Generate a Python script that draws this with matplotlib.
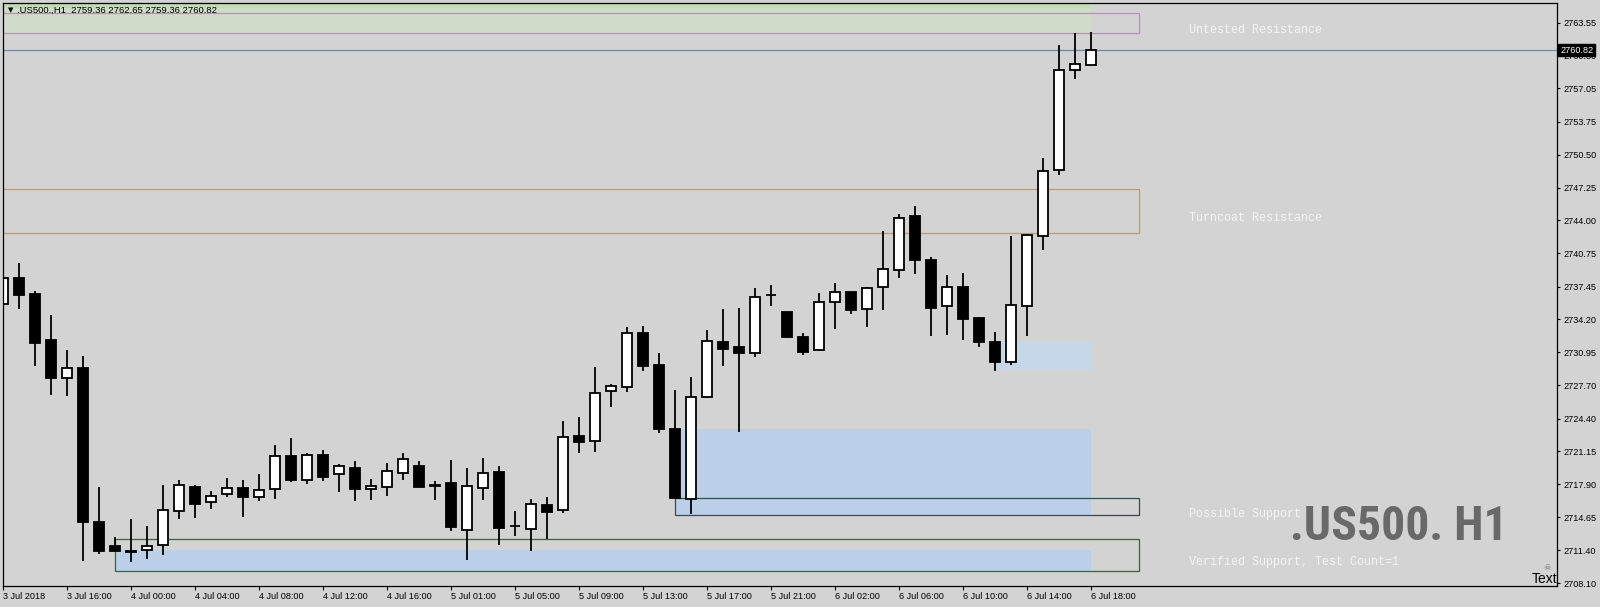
import matplotlib
matplotlib.use("Agg")
import matplotlib.pyplot as plt
from matplotlib.patches import Rectangle
from matplotlib import font_manager

# H1 bars, 3 Jul 12:00 .. 6 Jul 18:00
opens = [2735.70, 2738.27, 2736.72, 2732.17, 2728.38, 2729.40, 2714.17, 2711.79, 2711.35, 2711.37,
         2711.86, 2715.23, 2717.60, 2716.12, 2716.91, 2717.50, 2716.61, 2717.43, 2720.67, 2718.35,
         2720.79, 2718.89, 2719.51, 2717.46, 2717.66, 2719.04, 2719.71, 2717.80, 2718.03, 2713.41,
         2717.56, 2719.08, 2713.74, 2713.51, 2715.82, 2715.38, 2722.64, 2722.21, 2727.10, 2727.55,
         2732.83, 2729.67, 2723.37, 2716.47, 2726.56, 2731.97, 2731.48, 2730.86, 2736.59, 2734.94,
         2732.47, 2731.21, 2735.90, 2736.89, 2735.27, 2737.38, 2739.06, 2744.40, 2740.08, 2735.50,
         2737.38, 2734.32, 2731.97, 2729.96, 2735.50, 2742.43, 2748.96, 2758.85, 2759.36]
highs = [2738.50, 2739.76, 2736.99, 2734.64, 2731.18, 2730.59, 2717.63, 2712.68, 2714.46, 2713.77,
         2717.83, 2718.32, 2717.83, 2717.23, 2718.52, 2718.32, 2718.92, 2721.78, 2722.45, 2720.96,
         2721.29, 2719.90, 2720.20, 2718.42, 2720.00, 2720.99, 2720.20, 2718.22, 2720.30, 2719.51,
         2720.50, 2719.71, 2715.26, 2716.44, 2716.64, 2724.16, 2724.55, 2729.50, 2727.79, 2733.46,
         2733.55, 2730.88, 2727.22, 2728.51, 2733.16, 2735.24, 2735.34, 2737.31, 2737.61, 2734.94,
         2732.86, 2736.82, 2737.81, 2736.95, 2737.41, 2742.95, 2744.60, 2745.42, 2740.38, 2738.60,
         2738.80, 2734.45, 2732.96, 2742.46, 2742.62, 2750.17, 2761.35, 2762.51, 2762.65]
lows = [2734.07, 2735.27, 2729.63, 2726.76, 2726.66, 2710.34, 2711.03, 2711.33, 2710.24, 2710.54,
        2710.93, 2714.49, 2714.59, 2715.48, 2716.67, 2714.69, 2716.27, 2716.47, 2718.15, 2717.96,
        2718.22, 2717.17, 2716.27, 2716.34, 2716.77, 2718.35, 2717.66, 2716.34, 2713.31, 2710.44,
        2716.34, 2711.89, 2712.81, 2711.33, 2712.49, 2715.09, 2721.02, 2721.12, 2725.54, 2727.06,
        2729.13, 2723.00, 2716.50, 2714.99, 2726.46, 2729.63, 2723.10, 2730.52, 2735.56, 2732.37,
        2730.72, 2731.11, 2733.29, 2734.77, 2733.49, 2735.17, 2738.33, 2738.73, 2732.60, 2732.69,
        2732.20, 2731.50, 2729.13, 2729.73, 2732.60, 2741.10, 2748.52, 2758.02, 2759.36]
closes = [2738.27, 2736.65, 2731.90, 2728.44, 2729.37, 2714.20, 2711.33, 2711.33, 2711.20, 2711.76,
          2715.33, 2717.80, 2715.98, 2716.71, 2717.50, 2716.67, 2717.30, 2720.67, 2718.35, 2720.79,
          2718.65, 2719.71, 2717.46, 2717.70, 2719.18, 2720.37, 2717.66, 2717.72, 2713.70, 2717.70,
          2718.99, 2713.57, 2713.74, 2715.92, 2715.19, 2722.55, 2722.11, 2726.90, 2727.59, 2732.83,
          2729.63, 2723.40, 2716.57, 2726.50, 2732.04, 2731.31, 2730.92, 2736.39, 2736.59, 2732.50,
          2731.01, 2735.90, 2736.89, 2735.17, 2737.28, 2739.16, 2744.21, 2740.11, 2735.37, 2737.38,
          2734.28, 2732.00, 2729.96, 2735.60, 2742.53, 2748.86, 2758.85, 2759.44, 2760.82]

time_labels = ["3 Jul 2018", "3 Jul 16:00", "4 Jul 00:00", "4 Jul 04:00", "4 Jul 08:00",
               "4 Jul 12:00", "4 Jul 16:00", "5 Jul 01:00", "5 Jul 05:00", "5 Jul 09:00",
               "5 Jul 13:00", "5 Jul 17:00", "5 Jul 21:00", "6 Jul 02:00", "6 Jul 06:00",
               "6 Jul 10:00", "6 Jul 14:00", "6 Jul 18:00"]
price_ticks = [2708.10, 2711.40, 2714.65, 2717.90, 2721.15, 2724.40, 2727.70, 2730.95, 2734.20,
               2737.45, 2740.75, 2744.00, 2747.25, 2750.50, 2753.75, 2757.05, 2760.30, 2763.55]

# supply / demand zones (outline boxes)
zone_names = ["Untested Resistance", "Turncoat Resistance", "Possible Support",
              "Verified Support, Test Count=1"]
zone_hi = [2764.48, 2747.08, 2716.57, 2712.46]
zone_lo = [2762.51, 2742.72, 2714.83, 2709.28]
zone_start = [-2, -2, 42, 7]
zone_colors = ["#d87ad6", "#f0921c", "#2f4f4f", "#1a7a1a"]

# filled zone areas
fill_lo = [2762.51, 2765.04, 2714.83, 2729.20, 2709.28]
fill_hi = [2766.50, 2766.50, 2723.32, 2731.97, 2711.40]
fill_start = [-2, -2, 42, 62, 7]
fill_colors = ["#d0dcca", "#c2dbb4", "#bbcfe8", "#c6d7e9", "#bbcfe8"]

symbol = ".US500.,H1"
bg = "#d3d3d3"
W, H = 1600, 607
box_end = 71      # right end of zone boxes (bars)
fill_end = 68     # fills stop at the last bar
label_x = 74.1

plt.rcParams["font.family"] = ["Liberation Sans", "DejaVu Sans"]

fig = plt.figure(figsize=(W / 100, H / 100), dpi=100, facecolor=bg)
left, right, top, bottom = 3, 1557, 3, 586
ax = fig.add_axes([left / W, 1 - bottom / H, (right - left) / W, (bottom - top) / H])
ax.set_facecolor(bg)

n = len(opens)
ax.set_xlim(0, (right - left) / 16)
ax.set_ylim(2707.84, 2765.50)

for lo, hi, x0, c in zip(fill_lo, fill_hi, fill_start, fill_colors):
    ax.add_patch(Rectangle((x0, lo), fill_end - x0, hi - lo, facecolor=c, edgecolor="none", zorder=1))

for lo, hi, x0, c in zip(zone_lo, zone_hi, zone_start, zone_colors):
    ax.add_patch(Rectangle((x0, lo), box_end - x0, hi - lo, facecolor="none", edgecolor=c,
                           lw=0.9, zorder=1.5))

ax.axhline(closes[-1], color="#778899", lw=0.9, zorder=1.6)

# candles
bw = 0.6
for i in range(n):
    o, h, l, c = opens[i], highs[i], lows[i], closes[i]
    ax.plot([i, i], [l, h], color="black", lw=1.3, zorder=2, solid_capstyle="butt")
    fc = "white" if c >= o else "black"
    ax.add_patch(Rectangle((i - bw / 2, min(o, c)), bw, abs(c - o), facecolor=fc,
                           edgecolor="black", lw=1.3, zorder=2.2))

# zone labels
for name, lo, hi in zip(zone_names, zone_lo, zone_hi):
    ax.annotate(name, (label_x, (lo + hi) / 2), xytext=(0, -7), textcoords="offset pixels",
                ha="left", va="center", color="#f4f4f4", fontsize=8.5,
                family=["Liberation Mono", "DejaVu Sans Mono"], annotation_clip=False)

# axes styling
for s in ax.spines.values():
    s.set_color("black")
    s.set_linewidth(0.9)
ax.set_xticks(range(0, n, 4))
ax.set_xticklabels(time_labels, ha="left")
ax.set_yticks(price_ticks)
ax.set_yticklabels([f"{p:.2f}" for p in price_ticks])
ax.yaxis.tick_right()
ax.tick_params(axis="x", direction="out", length=3, width=0.8, pad=1, labelsize=6.6, colors="black")
ax.tick_params(axis="y", direction="out", length=2.5, width=0.8, pad=2, labelsize=6.6, colors="black")

# current price tag
ax.text(1.002, closes[-1], f"{closes[-1]:.2f}", transform=ax.get_yaxis_transform(),
        ha="left", va="center", color="white", fontsize=6.6, clip_on=False, zorder=5,
        bbox=dict(facecolor="black", edgecolor="black", pad=1.2))

# header
fig.text(8 / W, 1 - 10 / H, "\u25bc", fontsize=5, ha="left", va="center", family="DejaVu Sans")
fig.text(17 / W, 1 - 10 / H,
         f"{symbol}  {opens[-1]:.2f} {highs[-1]:.2f} {lows[-1]:.2f} {closes[-1]:.2f}",
         fontsize=6.8, ha="left", va="center")

# watermark
names = {f.name for f in font_manager.fontManager.ttflist}
wm_font = "DejaVu Sans"
for cand in ["Liberation Sans Narrow", "Roboto Condensed", "DejaVu Sans Condensed", "Roboto"]:
    if cand in names:
        wm_font = cand
        break
wm = fig.text(1290 / W, 1 - 540 / H, ".US500. H1", fontsize=40, fontweight="black",
              color="#696969", family=wm_font, ha="left", va="baseline")
fig.canvas.draw()
w = wm.get_window_extent().width
wm.set_fontsize(40 * 218 / w)

fig.text(1547 / W, 1 - 567 / H, "\u2620", fontsize=6, color="#7a7a7a", ha="center", va="center",
         family="DejaVu Sans")
fig.text(1557 / W, 1 - 583 / H, "Text", fontsize=10, color="black", ha="right", va="baseline")

fig.savefig("out.png", dpi=100, facecolor=bg)
